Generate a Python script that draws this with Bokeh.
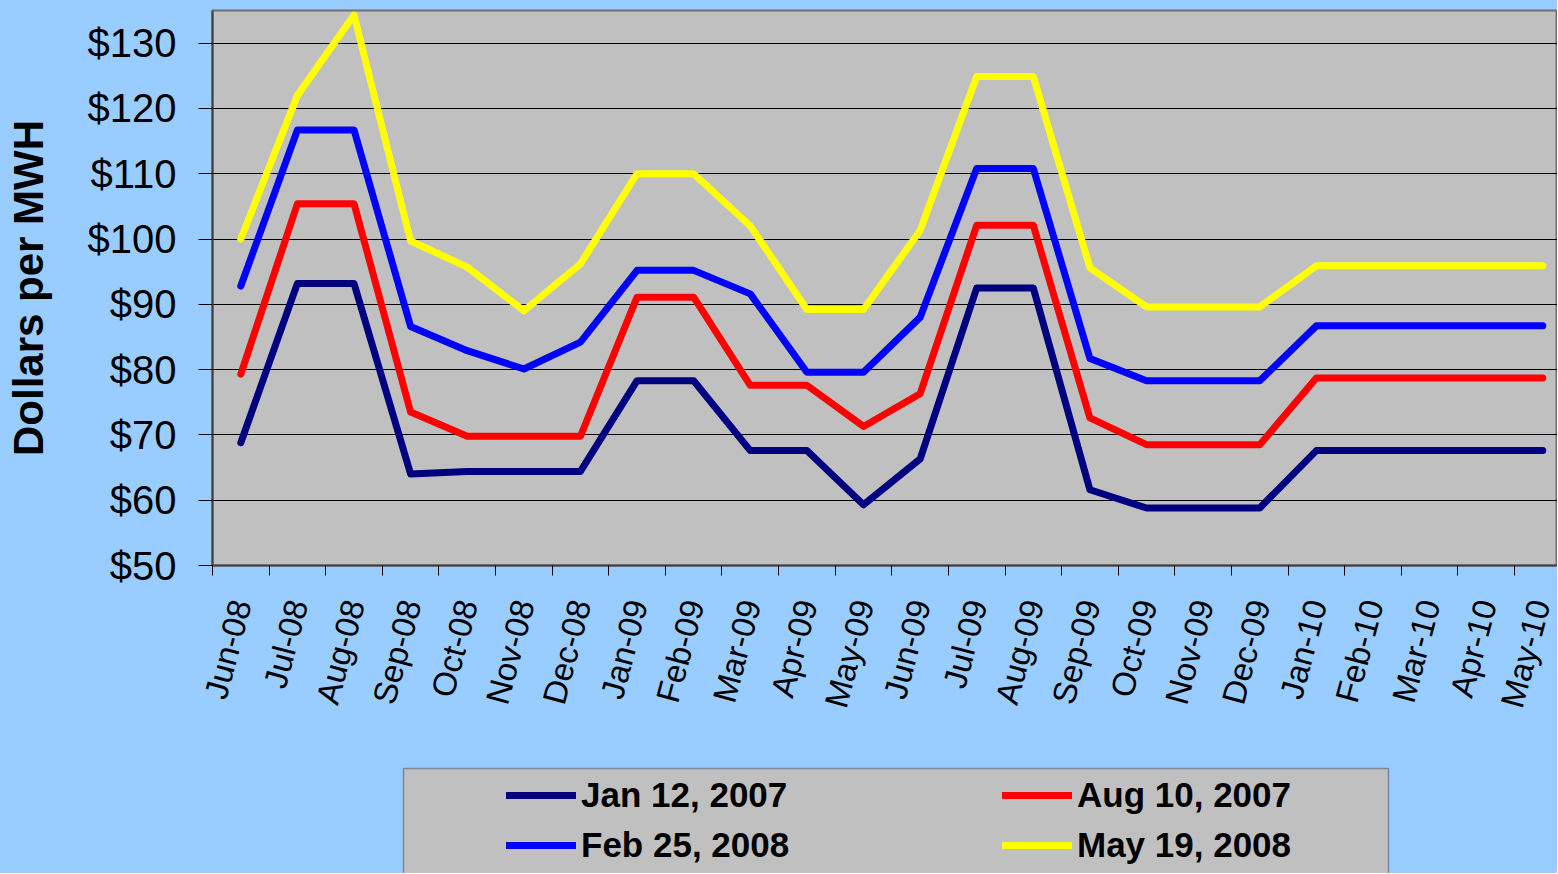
from bokeh.plotting import figure
from bokeh.layouts import column
from bokeh.models import (FixedTicker, NumeralTickFormatter, Legend, LegendItem, Range1d,
                          BoxAnnotation)
from bokeh.embed import file_html
from bokeh.resources import INLINE

months = ["Jun-08", "Jul-08", "Aug-08", "Sep-08", "Oct-08", "Nov-08", "Dec-08",
          "Jan-09", "Feb-09", "Mar-09", "Apr-09", "May-09", "Jun-09", "Jul-09",
          "Aug-09", "Sep-09", "Oct-09", "Nov-09", "Dec-09", "Jan-10", "Feb-10",
          "Mar-10", "Apr-10", "May-10"]

jan12_2007 = [68.8, 93.2, 93.2, 64.0, 64.4, 64.4, 64.4, 78.3, 78.3, 67.6, 67.6, 59.3,
              66.3, 92.5, 92.5, 61.6, 58.8, 58.8, 58.8, 67.6, 67.6, 67.6, 67.6, 67.6]
aug10_2007 = [79.3, 105.4, 105.4, 73.5, 69.8, 69.8, 69.8, 91.1, 91.1, 77.6, 77.6, 71.3,
              76.3, 102.1, 102.1, 72.6, 68.5, 68.5, 68.5, 78.7, 78.7, 78.7, 78.7, 78.7]
feb25_2008 = [92.8, 116.7, 116.7, 86.6, 82.9, 80.1, 84.2, 95.2, 95.2, 91.6, 79.6, 79.6,
              88.0, 110.8, 110.8, 81.7, 78.3, 78.3, 78.3, 86.7, 86.7, 86.7, 86.7, 86.7]
may19_2008 = [100.0, 122.0, 134.3, 99.7, 95.7, 89.0, 96.2, 110.0, 110.0, 102.0, 89.2, 89.2,
              101.3, 124.9, 124.9, 95.6, 89.6, 89.6, 89.6, 95.9, 95.9, 95.9, 95.9, 95.9]

series_names = ["Jan 12, 2007", "Aug 10, 2007", "Feb 25, 2008", "May 19, 2008"]
series_colors = ["#000080", "#FF0000", "#0000FF", "#FFFF00"]
y_ticks = [50, 60, 70, 80, 90, 100, 110, 120, 130]

FONT = "Liberation Sans"
BG = "#99CCFF"
PLOT_BG = "#C0C0C0"
W = 1557
LEFT = 212
xs = [i + 0.5 for i in range(len(months))]

# ---------------- main chart ----------------
p = figure(width=W, height=740, output_backend="svg", toolbar_location=None,
           x_range=Range1d(0, 23.76), y_range=Range1d(50, 135),
           min_border_left=LEFT, min_border_right=0, min_border_top=10,
           min_border_bottom=175)
p.background_fill_color = PLOT_BG
p.border_fill_color = BG
p.outline_line_color = "#707070"
p.outline_line_width = 2

for vals, col in zip([jan12_2007, aug10_2007, feb25_2008, may19_2008], series_colors):
    p.line(xs, vals, line_color=col, line_width=7, line_cap="round", line_join="round")

p.xgrid.grid_line_color = None
p.ygrid.grid_line_color = "#000000"
p.ygrid.grid_line_width = 1

xa = p.xaxis[0]
xa.ticker = FixedTicker(ticks=xs, minor_ticks=list(range(25)))
xa.major_label_overrides = {x: m for x, m in zip(xs, months)}
xa.major_tick_out = 0
xa.major_tick_in = 0
xa.minor_tick_out = 10
xa.minor_tick_in = 0
xa.minor_tick_line_color = "#000000"
xa.axis_line_color = "#404040"
xa.axis_line_width = 2
xa.major_label_orientation = 1.31
xa.major_label_text_font = FONT
xa.major_label_text_font_size = "33px"
xa.major_label_text_color = "#000000"
xa.major_label_standoff = 25

ya = p.yaxis[0]
ya.ticker = FixedTicker(ticks=y_ticks, minor_ticks=[])
ya.formatter = NumeralTickFormatter(format="$0")
ya.major_tick_out = 14
ya.major_tick_in = 0
ya.major_tick_line_color = "#000000"
ya.axis_line_color = "#404040"
ya.axis_line_width = 2
ya.major_label_text_font = FONT
ya.major_label_text_font_size = "40px"
ya.major_label_text_color = "#000000"
ya.major_label_standoff = 22
ya.axis_label = "Dollars per MWH"
ya.axis_label_text_font = FONT
ya.axis_label_text_font_size = "42px"
ya.axis_label_text_font_style = "bold"
ya.axis_label_text_color = "#000000"
ya.axis_label_standoff = 33

# ---------------- legend panel (pixel-like ranges) ----------------
H2 = 133
p2 = figure(width=W, height=H2, output_backend="svg", toolbar_location=None,
            x_range=Range1d(LEFT, W), y_range=Range1d(H2, 0),
            x_axis_type=None, y_axis_type=None,
            min_border_left=LEFT, min_border_right=0, min_border_top=0,
            min_border_bottom=0)
p2.background_fill_alpha = 0
p2.border_fill_color = BG
p2.outline_line_color = None
p2.grid.visible = False

legend_box = BoxAnnotation(left=403, right=1388, top=28, bottom=H2 + 10,
                           fill_color=PLOT_BG, fill_alpha=1.0,
                           line_color="#000000", line_width=1.5, level="underlay")
p2.add_layout(legend_box)

nan = float("nan")
proxies = {}
for name, col in zip(series_names, series_colors):
    proxies[name] = p2.line(x=[nan], y=[nan], line_color=col, line_width=7,
                            line_cap="round")

# column-major fill: first column Jan 12 / Feb 25, second Aug 10 / May 19
order = ["Jan 12, 2007", "Feb 25, 2008", "Aug 10, 2007", "May 19, 2008"]
items = [LegendItem(label=n, renderers=[proxies[n]]) for n in order]
legend = Legend(items=items, ncols=2, location=(506 - LEFT, 8),
                glyph_width=70, glyph_height=40, label_height=40, label_width=411,
                label_standoff=5, spacing=10, padding=7,
                label_text_font=FONT, label_text_font_size="35px",
                label_text_font_style="bold", label_text_color="#000000",
                background_fill_alpha=0, border_line_color=None)
p2.add_layout(legend)

layout = column(p, p2, spacing=0, styles={"background-color": BG})
open("out.html", "w").write(file_html(layout, INLINE))
